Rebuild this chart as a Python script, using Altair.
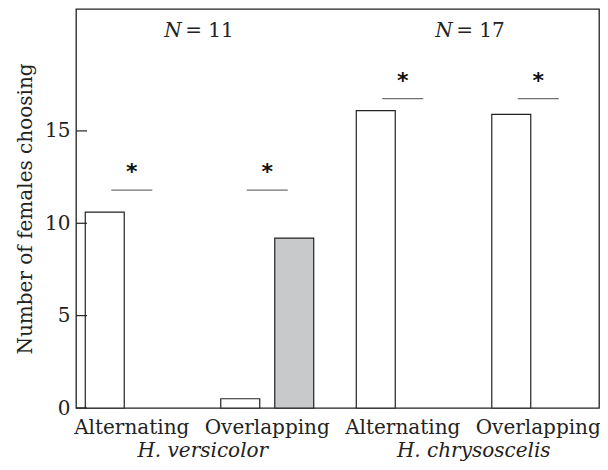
import altair as alt
import pandas as pd

# ---- data ----
group_keys = ["versicolor|Alternating", "versicolor|Overlapping",
              "chrysoscelis|Alternating", "chrysoscelis|Overlapping"]
first_choice = [10.6, 0.5, 16.1, 15.9]     # white bars
second_choice = [0.0, 9.2, 0.0, 0.0]       # grey bars
sig_level = [11.8, 11.8, 16.75, 16.75]     # significance bars
species_names = ["H. versicolor", "H. chrysoscelis"]
species_first_group = ["versicolor|Alternating", "chrysoscelis|Alternating"]
n_females = [11, 17]
y_ticks = [0, 5, 10, 15]

FONT = "DejaVu Serif"
FS = 20
INK = "#222222"
GREY = "#c8c9cb"
YTITLE = "Number of females choosing"

rows = []
for g, a, b in zip(group_keys, first_choice, second_choice):
    if a > 0:
        rows.append({"group": g, "choice": "first", "value": a})
    if b > 0:
        rows.append({"group": g, "choice": "second", "value": b})
bars_df = pd.DataFrame(rows)
sig_df = pd.DataFrame({"group": group_keys, "level": sig_level})
sp_df = pd.DataFrame({"group": species_first_group, "species": species_names,
                      "ntext": ["= " + str(n) for n in n_females]})
tick_df = pd.DataFrame({"v": y_ticks})

xscale = alt.Scale(domain=group_keys, range=[-12, 530],
                   paddingInner=0.314, paddingOuter=0.157)
yscale = alt.Scale(domain=[0, 21.6], nice=False, zero=True)

x_axis = alt.Axis(title=None, domain=False, ticks=False, labelAngle=0,
                  labelExpr="split(datum.label, '|')[1]",
                  labelFont=FONT, labelFontSize=FS, labelColor=INK,
                  labelBaseline="alphabetic", labelPadding=25, tickSize=0)
y_axis = alt.Axis(values=y_ticks, domain=False, ticks=False, grid=False,
                  labelFont=FONT, labelFontSize=FS, labelColor=INK,
                  labelPadding=6, titleFont=FONT, titleFontSize=FS,
                  titleFontWeight="normal", titleColor=INK, titlePadding=9)

bars = alt.Chart(bars_df).mark_bar(stroke=INK, strokeWidth=1.2).encode(
    x=alt.X("group:N", scale=xscale, axis=x_axis, sort=group_keys),
    xOffset=alt.XOffset("choice:N", scale=alt.Scale(domain=["first", "second"],
                                                    paddingInner=0.278, paddingOuter=0)),
    y=alt.Y("value:Q", scale=yscale, axis=y_axis, title=YTITLE),
    fill=alt.Fill("choice:N", scale=alt.Scale(domain=["first", "second"],
                                              range=["white", GREY]), legend=None),
)

ticks = alt.Chart(tick_df).mark_rule(color=INK, strokeWidth=1.2).encode(
    y=alt.Y("v:Q", scale=yscale, title=YTITLE),
    x=alt.value(0), x2=alt.value(11),
)

sig = alt.Chart(sig_df).mark_tick(color="#333333", size=41, thickness=1.2).encode(
    x=alt.X("group:N", scale=xscale, title=None, sort=group_keys),
    y=alt.Y("level:Q", scale=yscale, title=YTITLE),
)

stars = alt.Chart(sig_df).mark_text(text="*", font="DejaVu Sans", fontWeight="bold",
                                    fontSize=22, baseline="alphabetic", dy=-11,
                                    color="#111111").encode(
    x=alt.X("group:N", scale=xscale, title=None, sort=group_keys),
    y=alt.Y("level:Q", scale=yscale, title=YTITLE),
)

n_letter = alt.Chart(sp_df).mark_text(text="N", font=FONT, fontStyle="italic",
                                      fontSize=FS, align="right", baseline="alphabetic",
                                      dx=50, color=INK).encode(
    x=alt.X("group:N", scale=xscale, title=None, sort=group_keys),
    y=alt.value(27.7),
)
n_value = alt.Chart(sp_df).mark_text(font=FONT, fontSize=FS, align="left",
                                     baseline="alphabetic", dx=53.5, color=INK).encode(
    x=alt.X("group:N", scale=xscale, title=None, sort=group_keys),
    y=alt.value(27.7),
    text="ntext:N",
)
species = alt.Chart(sp_df).mark_text(font=FONT, fontStyle="italic", fontSize=FS,
                                     align="center", baseline="alphabetic", dx=71,
                                     color=INK).encode(
    x=alt.X("group:N", scale=xscale, title=None, sort=group_keys),
    y=alt.value(448),
    text="species:N",
)

chart = alt.layer(bars, ticks, sig, stars, n_letter, n_value, species).properties(
    width=523, height=399,
    autosize=alt.AutoSizeParams(type="none"),
    padding={"left": 68, "top": 1, "right": 1, "bottom": 54},
).configure_view(stroke=INK, strokeWidth=1.3)

chart.save("out.html", embed_options={"renderer": "svg", "actions": False})
